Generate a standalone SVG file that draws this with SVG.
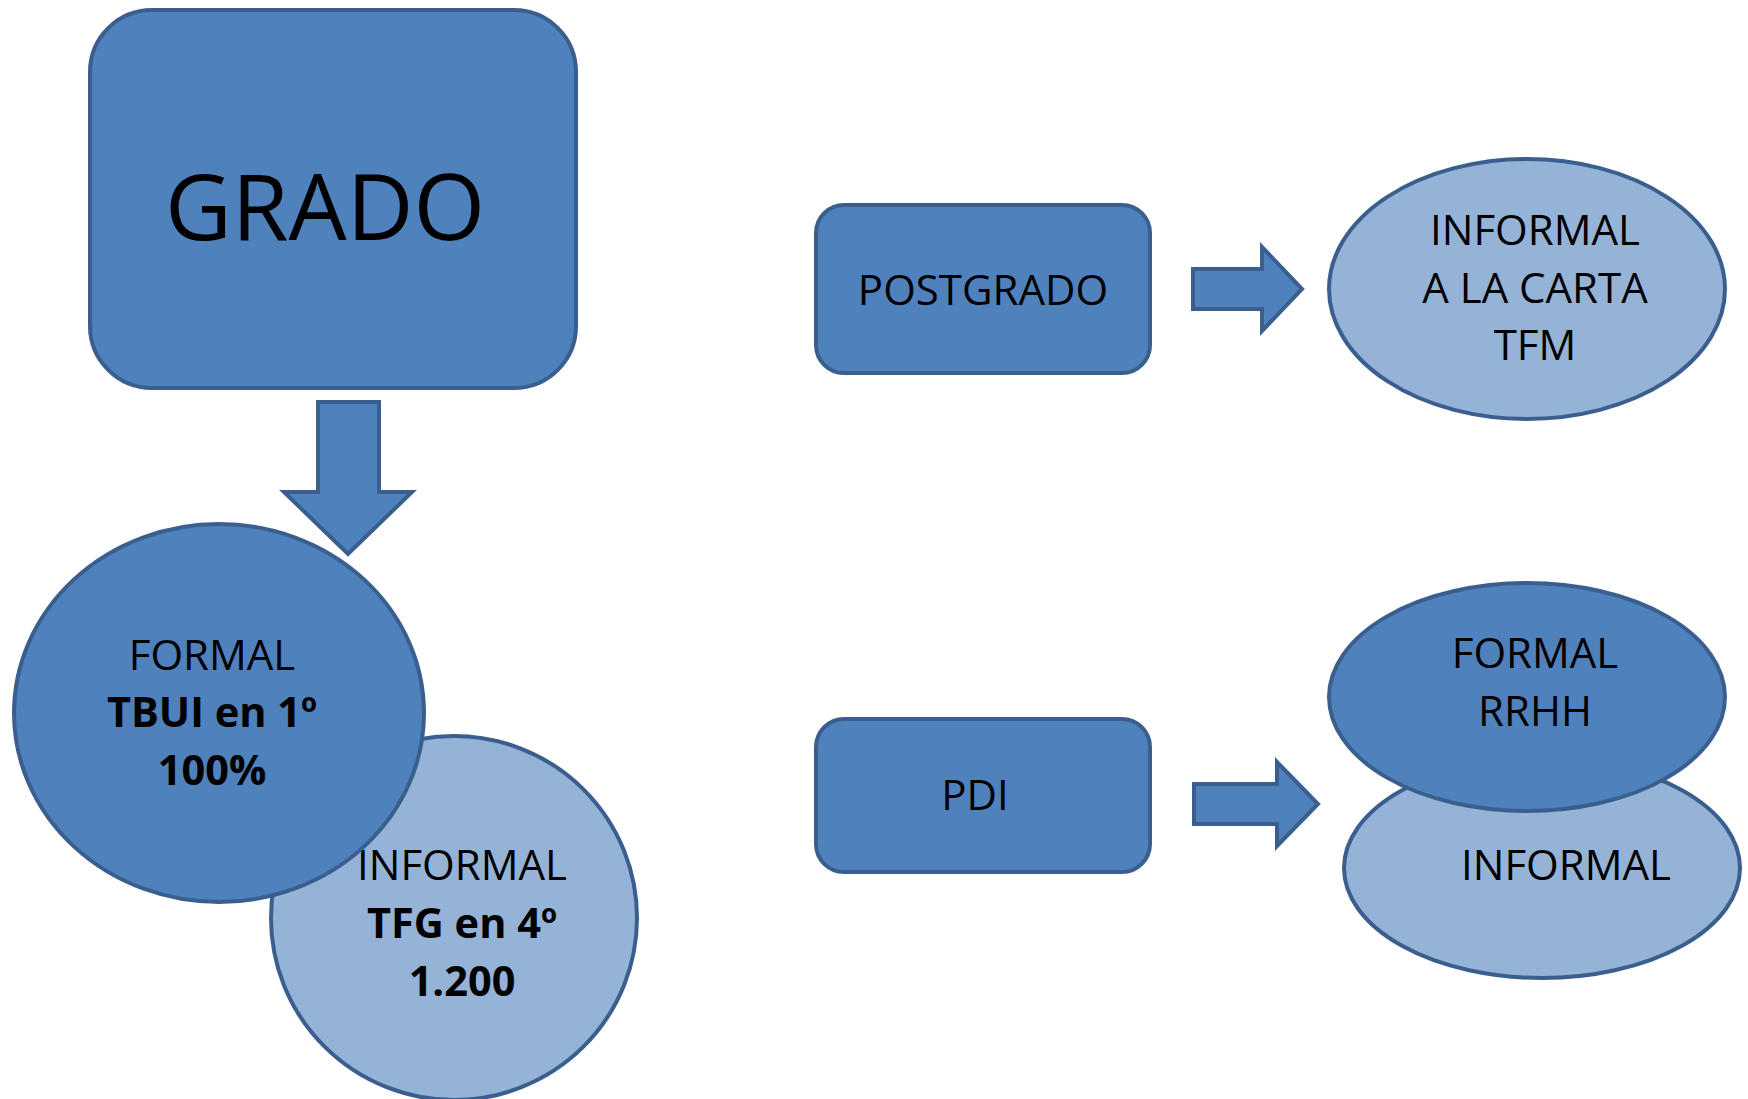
<svg xmlns="http://www.w3.org/2000/svg" width="1748" height="1099" viewBox="0 0 1748 1099">
<style>
.dark{fill:#4f81bd;stroke:#3a5f8e;stroke-width:4}
.light{fill:#95b3d7;stroke:#3a5f8e;stroke-width:4}
text{font-family:"Open Sans","Noto Sans","Liberation Sans",sans-serif;fill:#000;text-anchor:middle}
.t{font-size:42px}
.b{font-size:41.5px;font-weight:bold}
</style>
<rect width="1748" height="1099" fill="#fff"/>
<g id="grado">
<rect class="dark" x="90" y="10" width="486" height="378" rx="62" ry="62"/>
<text x="325" y="240" style="font-size:92px">GRADO</text>
</g>
<g id="informal-tfg">
<ellipse class="light" cx="454" cy="918" rx="183" ry="182"/>
<text class="t" x="462" y="880">INFORMAL</text>
<text class="b" x="462" y="938">TFG en 4º</text>
<text class="b" x="462" y="996">1.200</text>
</g>
<g id="formal-tbui">
<ellipse class="dark" cx="219" cy="713" rx="205" ry="189"/>
<text class="t" x="212" y="670">FORMAL</text>
<text class="b" x="212" y="727">TBUI en 1º</text>
<text class="b" x="212" y="785">100%</text>
</g>
<g id="postgrado">
<rect class="dark" x="816" y="205" width="334" height="168" rx="28" ry="28"/>
<text class="t" x="983" y="305">POSTGRADO</text>
</g>
<g id="informal-carta">
<ellipse class="light" cx="1527" cy="289" rx="198" ry="130"/>
<text class="t" x="1535" y="245">INFORMAL</text>
<text class="t" x="1535" y="303">A LA CARTA</text>
<text class="t" x="1535" y="360">TFM</text>
</g>
<g id="pdi">
<rect class="dark" x="816" y="719" width="334" height="153" rx="28" ry="28"/>
<text class="t" x="975" y="810">PDI</text>
</g>
<g id="informal-pdi">
<ellipse class="light" cx="1542" cy="868" rx="198" ry="110"/>
<text class="t" x="1566" y="880">INFORMAL</text>
</g>
<g id="formal-rrhh">
<ellipse class="dark" cx="1527" cy="697" rx="198" ry="114"/>
<text class="t" x="1535" y="668">FORMAL</text>
<text class="t" x="1535" y="726">RRHH</text>
</g>
<g id="connectors">
<polygon class="dark" points="318,402 379,402 379,492 412,492 348,554 284,492 318,492"/>
<polygon class="dark" points="1193,269 1262,269 1262,247 1302,289 1262,331 1262,309 1193,309"/>
<polygon class="dark" points="1194,784 1277,784 1277,762 1318,804 1277,846 1277,824 1194,824"/>
</g>
</svg>
